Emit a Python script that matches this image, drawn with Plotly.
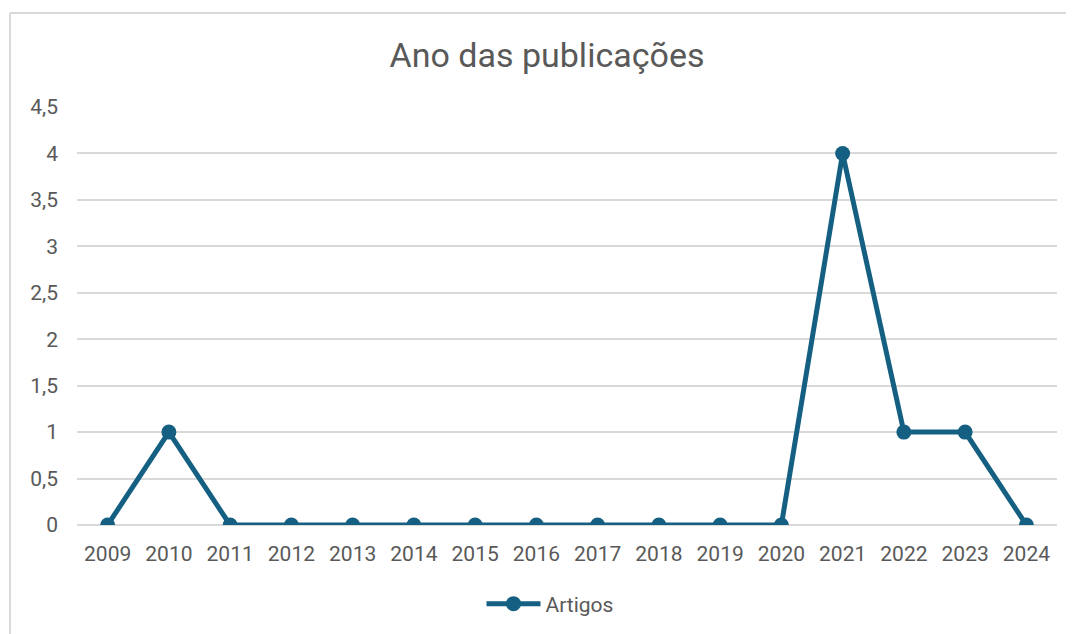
import plotly.graph_objects as go

years = ["2009", "2010", "2011", "2012", "2013", "2014", "2015", "2016",
         "2017", "2018", "2019", "2020", "2021", "2022", "2023", "2024"]
artigos = [0, 1, 0, 0, 0, 0, 0, 0, 0, 0, 0, 0, 4, 1, 1, 0]
y_tick_vals = [0, 0.5, 1, 1.5, 2, 2.5, 3, 3.5, 4, 4.5]
y_tick_text = ["0", "0,5", "1", "1,5", "2", "2,5", "3", "3,5", "4", "4,5"]

LINE = "#156082"
TXT = "#595959"
GRID = "#d9d9d9"
FONT = "Roboto, Inter, Arial, sans-serif"

OFF = 8  # page body margin offset
W, H = 1074 - OFF, 634 - OFF
# plot area in page pixels: x 77..1057, y 107..525
L, T = 77 - OFF, 107 - OFF
R, B = W - (1057 - OFF), H - (525 - OFF)
pw, ph = W - L - R, H - T - B

def px_x(x):
    return (x - OFF - L) / pw

def px_y(y):
    return 1 - (y - OFF - T) / ph

fig = go.Figure()
fig.add_trace(go.Scatter(
    x=years, y=artigos, mode="lines+markers", name="Artigos",
    line=dict(color=LINE, width=5),
    marker=dict(color=LINE, size=15),
))

fig.update_layout(
    template="none",
    width=W, height=H,
    margin=dict(l=L, r=R, t=T, b=B, autoexpand=False),
    paper_bgcolor="white", plot_bgcolor="white",
    title=dict(text="Ano das publicações", x=(547 - OFF) / W, xanchor="center",
               y=1 - (55 - OFF) / H, yanchor="middle",
               font=dict(family=FONT, size=34, color=TXT)),
    font=dict(family=FONT, color=TXT),
    showlegend=True,
    legend=dict(orientation="h", x=px_x(550), xanchor="center",
                y=px_y(604), yanchor="middle",
                font=dict(family=FONT, size=21, color=TXT),
                itemwidth=54, bgcolor="rgba(0,0,0,0)"),
    xaxis=dict(type="category", range=[-0.5, len(years) - 0.5],
               showgrid=False, showline=False, zeroline=False,
               automargin=False,
               tickfont=dict(family=FONT, size=21, color=TXT),
               ticks="", ticklabelstandoff=14),
    yaxis=dict(range=[0, 4.5], tickvals=y_tick_vals, ticktext=y_tick_text,
               showgrid=True, gridcolor=GRID, gridwidth=1.5,
               zeroline=True, zerolinecolor=GRID, zerolinewidth=1.5,
               showline=False, automargin=False,
               tickfont=dict(family=FONT, size=21, color=TXT),
               ticks="", ticklabelstandoff=18),
)

# chart-area border (top and left visible in reference)
fig.add_shape(type="line", xref="paper", yref="paper",
              x0=px_x(10), x1=px_x(1090), y0=px_y(13), y1=px_y(13),
              line=dict(color=GRID, width=2))
fig.add_shape(type="line", xref="paper", yref="paper",
              x0=px_x(10), x1=px_x(10), y0=px_y(13), y1=px_y(660),
              line=dict(color=GRID, width=2))

fig.write_html("out.html")
